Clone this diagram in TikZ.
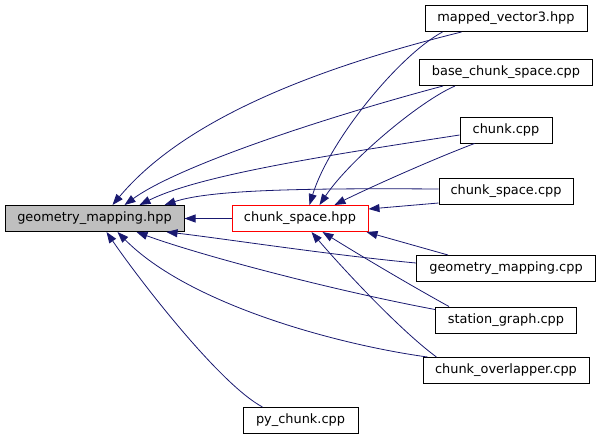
\documentclass[tikz,border=0pt]{standalone}
\usepackage{fontspec}
\setmainfont{DejaVu Sans}
\usepackage{tikz}
\usetikzlibrary{arrows.meta}
\definecolor{edgeblue}{RGB}{25,25,112}
\definecolor{nodegray}{RGB}{191,191,191}
\definecolor{nodered}{RGB}{255,0,0}

\begin{document}
\begin{tikzpicture}[
  x=1pt, y=-1pt,
  filebox/.style={draw=black, fill=white, line width=1pt, inner sep=0pt, minimum height=26pt, font=\fontsize{12.9}{15}\selectfont},
  incl/.style={-{Triangle[length=11pt,width=8pt]}, edgeblue, line width=0.8pt}
]
  \useasboundingbox (0,0) rectangle (600,440);
  % headers
  \node[filebox, fill=nodegray, minimum width=179pt] (gmh) at (94.5,218.5) {geometry\_mapping.hpp};
  \node[filebox, draw=nodered, minimum width=136pt] (csh) at (300,218.5) {chunk\_space.hpp};
  \node[filebox, minimum width=115pt] (py) at (300.5,420.5) {py\_chunk.cpp};
  % files that include them
  \foreach \name/\y/\w/\txt in {mv3/18.5/162pt/mapped\_vector3.hpp, bcs/72.5/173pt/base\_chunk\_space.cpp,
      chk/130/92pt/chunk.cpp, csc/191.5/134pt/chunk\_space.cpp, gmc/268.5/179pt/geometry\_mapping.cpp,
      sg/320/141pt/station\_graph.cpp, co/370.5/166pt/chunk\_overlapper.cpp} {
    \node[filebox, minimum width=\w] (\name) at (506,\y) {\txt};
  }
  % into geometry_mapping.hpp
  \draw[incl] ([xshift=37pt]mv3.south west) .. controls +(-162,40) and +(67,-80) .. ([xshift=108pt]gmh.north west);
  \draw[incl] ([xshift=24pt]bcs.south west) .. controls +(-113,30) and +(55,-40) .. ([xshift=120pt]gmh.north west);
  \draw[incl] ([yshift=-5pt]chk.west) .. controls +(-130,20) and +(60,-30) .. ([xshift=135pt]gmh.north west);
  \draw[incl] ([yshift=2.5pt]csc.west) .. controls +(-139,-1) and +(45,-15) .. ([xshift=160pt]gmh.north west);
  \draw[incl] (csh) -- (gmh);
  \draw[incl] ([yshift=5.5pt]gmc.west) .. controls +(-86,-8) and +(53,6) .. ([xshift=162pt]gmh.south west);
  \draw[incl] ([yshift=-3pt]sg.north west) .. controls +(-106,-20) and +(63,23) .. ([xshift=132pt]gmh.south west);
  \draw[incl] ([xshift=5pt]co.north west) .. controls +(-88,-12) and +(72,73) .. ([xshift=113pt]gmh.south west);
  \draw[incl] ([xshift=20pt]py.north west) .. controls +(-43,-23) and +(33,48) .. ([xshift=102pt]gmh.south west);
  % into chunk_space.hpp
  \draw[incl] ([xshift=18pt]mv3.south west) .. controls +(-43,23) and +(20,-65) .. ([xshift=78pt]csh.north west);
  \draw[incl] ([xshift=36pt]bcs.south west) .. controls +(-35,15) and +(30,-45) .. ([xshift=88pt]csh.north west);
  \draw[incl] ([xshift=15pt]chk.south west) .. controls +(-45,17) and +(30,-15) .. ([xshift=103pt]csh.north west);
  \draw[incl] ([yshift=2pt]csc.south west) -- ([yshift=-4pt]csh.north east);
  \draw[incl] ([xshift=32pt]gmc.north west) -- ([xshift=-2pt]csh.south east);
  \draw[incl] ([xshift=14pt]sg.north west) .. controls +(-40,-22) and +(37,23) .. ([xshift=91pt]csh.south west);
  \draw[incl] ([xshift=14pt]co.north west) .. controls +(-37,-27) and +(28,33) .. ([xshift=80pt]csh.south west);
\end{tikzpicture}
\end{document}
